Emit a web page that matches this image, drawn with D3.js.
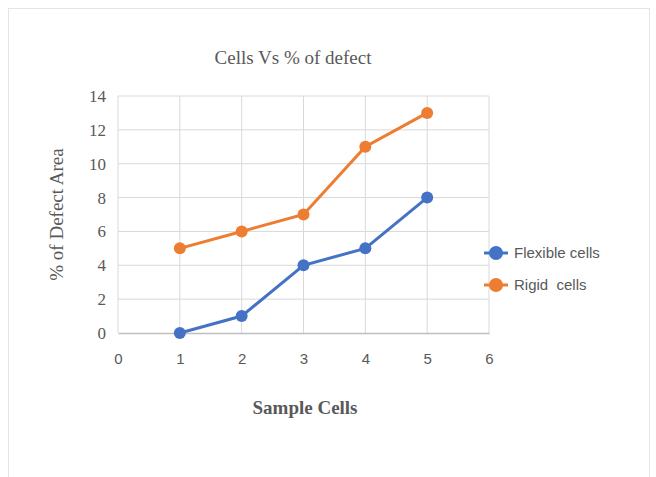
<!DOCTYPE html>
<html>
<head>
<meta charset="utf-8">
<script src="https://cdn.jsdelivr.net/npm/d3@7"></script>
<style>
  body { margin: 0; background: #fff; }
</style>
</head>
<body>
<div id="chart"></div>
<script>
// chart data
const sampleCells = [1, 2, 3, 4, 5];
const flexibleCells = [0, 1, 4, 5, 8];
const rigidCells = [5, 6, 7, 11, 13];
const seriesNames = ["Flexible cells", "Rigid  cells"];
const seriesColors = ["#4472C4", "#ED7D31"];
const xTicks = [0, 1, 2, 3, 4, 5, 6];
const yTicks = [0, 2, 4, 6, 8, 10, 12, 14];

const W = 656, H = 477;
const margin = {top: 96, left: 118, right: 167, bottom: 144};
const width = W - margin.left - margin.right,
      height = H - margin.top - margin.bottom;

const svg = d3.select("#chart").append("svg")
    .attr("width", W)
    .attr("height", H);

// outer chart border
svg.append("rect")
    .attr("x", 8.5).attr("y", 8.5)
    .attr("width", 641).attr("height", 470)
    .attr("fill", "none")
    .attr("stroke", "#e4e4e4");

const g = svg.append("g")
    .attr("transform", "translate(" + margin.left + "," + margin.top + ")");

const x = d3.scaleLinear().domain([0, 6]).range([0, width]);
const y = d3.scaleLinear().domain([0, 14]).range([height, 0]);

// gridlines
g.append("g").selectAll("line").data(yTicks.slice(1)).enter().append("line")
    .attr("x1", 0).attr("x2", width)
    .attr("y1", d => y(d)).attr("y2", d => y(d))
    .attr("stroke", "#d9d9d9").attr("stroke-width", 1);
g.append("g").selectAll("line").data(xTicks).enter().append("line")
    .attr("x1", d => x(d)).attr("x2", d => x(d))
    .attr("y1", 0).attr("y2", height)
    .attr("stroke", "#d9d9d9").attr("stroke-width", 1);

// axes
const xAxis = g.append("g")
    .attr("transform", "translate(0," + height + ")")
    .call(d3.axisBottom(x).tickValues(xTicks).tickFormat(d3.format("d")).tickSize(0).tickPadding(20));
xAxis.select(".domain").attr("stroke", "#bfbfbf").attr("stroke-width", 1.5);
xAxis.selectAll("text")
    .attr("fill", "#595959")
    .style("font-family", "'Liberation Sans', Arial, sans-serif")
    .style("font-size", "15px");

const yAxis = g.append("g")
    .call(d3.axisLeft(y).tickValues(yTicks).tickFormat(d3.format("d")).tickSize(0).tickPadding(12));
yAxis.select(".domain").remove();
yAxis.selectAll("text")
    .attr("fill", "#595959")
    .style("font-family", "'Liberation Serif', 'Times New Roman', serif")
    .style("font-size", "17px");

// lines and markers
const series = [flexibleCells, rigidCells];
const line = d3.line()
    .x((d, i) => x(sampleCells[i]))
    .y(d => y(d));

series.forEach(function(vals, s) {
    g.append("path")
        .datum(vals)
        .attr("fill", "none")
        .attr("stroke", seriesColors[s])
        .attr("stroke-width", 3)
        .attr("d", line);
    g.selectAll(".pt" + s).data(vals).enter().append("circle")
        .attr("class", "pt" + s)
        .attr("cx", (d, i) => x(sampleCells[i]))
        .attr("cy", d => y(d))
        .attr("r", 6)
        .attr("fill", seriesColors[s]);
});

// title and axis labels
svg.append("text")
    .attr("x", 293).attr("y", 64)
    .attr("text-anchor", "middle")
    .attr("fill", "#595959")
    .style("font-family", "'Liberation Serif', 'Times New Roman', serif")
    .style("font-size", "19px")
    .text("Cells Vs % of defect");

svg.append("text")
    .attr("transform", "translate(63," + (margin.top + height / 2) + ") rotate(-90)")
    .attr("text-anchor", "middle")
    .attr("fill", "#595959")
    .style("font-family", "'Liberation Serif', 'Times New Roman', serif")
    .style("font-size", "19px")
    .text("% of Defect Area");

svg.append("text")
    .attr("x", 305).attr("y", 414)
    .attr("text-anchor", "middle")
    .attr("fill", "#595959")
    .style("font-family", "'Liberation Serif', 'Times New Roman', serif")
    .style("font-size", "19px")
    .style("font-weight", "bold")
    .text("Sample Cells");

// legend
const legend = svg.append("g").attr("transform", "translate(496,253)");
seriesNames.forEach(function(name, i) {
    const row = legend.append("g").attr("transform", "translate(0," + (i * 32) + ")");
    row.append("line")
        .attr("x1", -12).attr("x2", 12)
        .attr("stroke", seriesColors[i]).attr("stroke-width", 3);
    row.append("circle")
        .attr("r", 7)
        .attr("fill", seriesColors[i]);
    row.append("text")
        .attr("x", 18).attr("y", 5)
        .attr("fill", "#595959")
        .style("font-family", "'Liberation Sans', Arial, sans-serif")
        .style("font-size", "15px")
        .style("white-space", "pre")
        .text(name);
});
</script>
</body>
</html>
